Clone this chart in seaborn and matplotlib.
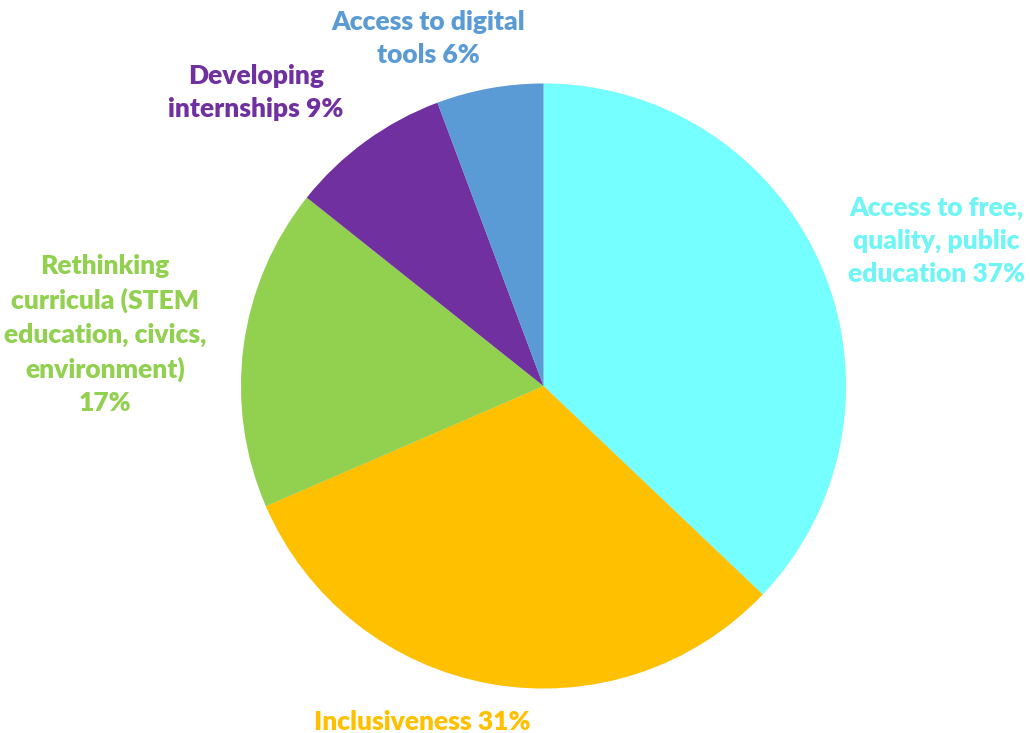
import matplotlib
matplotlib.use("Agg")
import matplotlib.pyplot as plt
import matplotlib.patheffects as pe
import seaborn as sns

categories = [
    "Access to free,\nquality, public\neducation",
    "Inclusiveness",
    "Rethinking\ncurricula (STEM\neducation, civics,\nenvironment)\n",
    "Developing\ninternships",
    "Access to digital\ntools",
]
values = [37.1, 31.4, 17.2, 8.6, 5.7]
shown_pct = [37, 31, 17, 9, 6]
colors = ["#75FFFF", "#FFC000", "#92D050", "#7030A0", "#5B9BD5"]
label_colors = ["#6FF5F5", "#FFC000", "#92D050", "#7030A0", "#5B9BD5"]

# label centres in units of the pie radius, relative to the pie centre
label_xy = [(1.30, 0.48), (-0.40, -1.11), (-1.45, 0.17), (-0.95, 0.97), (-0.38, 1.15)]

sns.set_theme(style="white")
plt.rcParams["font.family"] = ["Lato", "DejaVu Sans"]

fig = plt.figure(figsize=(10.30, 7.33), dpi=100)
ax = fig.add_axes([0, 0, 1, 1])

wedges, _ = ax.pie(
    values,
    colors=colors,
    startangle=90,
    counterclock=False,
    radius=1.0,
    wedgeprops=dict(linewidth=0),
)
for w in wedges:
    w.set_path_effects([pe.SimplePatchShadow(offset=(0, 0), shadow_rgbFace="#000000", alpha=0.08, rho=1.0),
                        pe.Normal()])

for cat, pct, col, (x, y) in zip(categories, shown_pct, label_colors, label_xy):
    sep = "" if cat.endswith("\n") else " "
    ax.text(x, y, f"{cat}{sep}{pct}%", color=col, ha="center", va="center",
            fontsize=19, fontweight="heavy", linespacing=1.45, multialignment="center")

ax.set_xlim(-543.5 / 302.5, (1030 - 543.5) / 302.5)
ax.set_ylim(-(733 - 386) / 302.5, 386 / 302.5)
ax.set_aspect("auto")
ax.axis("off")

fig.savefig("out.png", dpi=100, facecolor="white")
